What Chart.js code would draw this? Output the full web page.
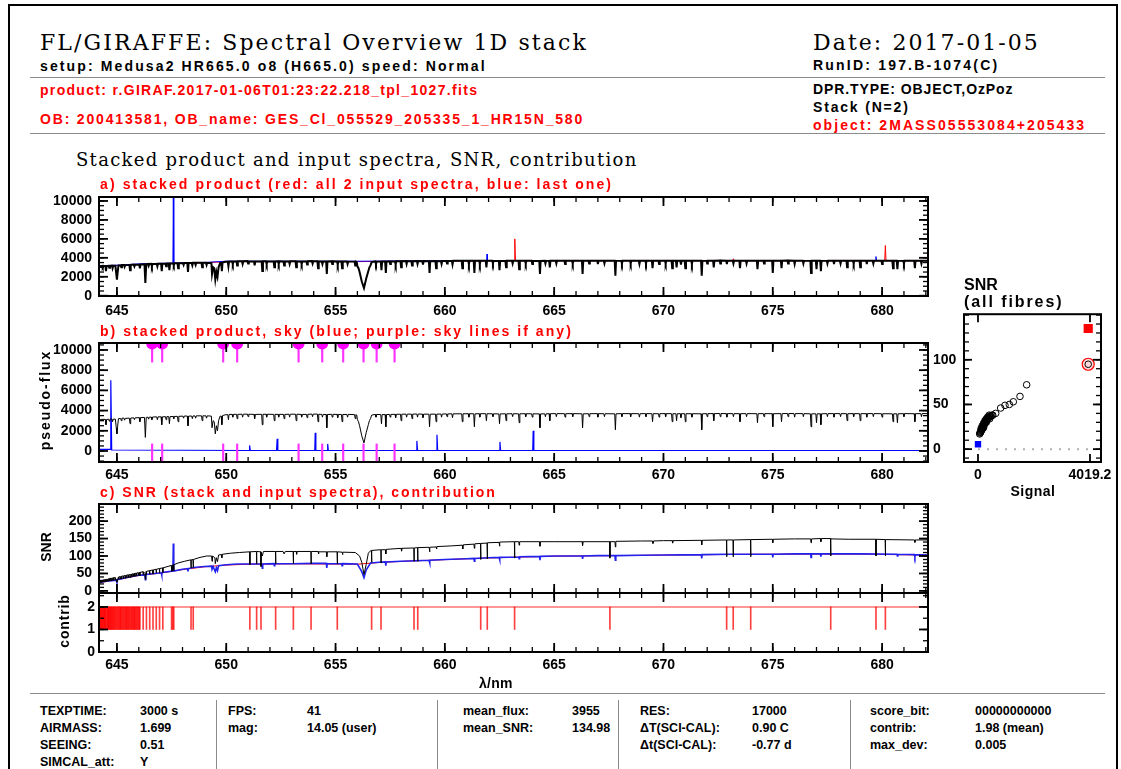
<!DOCTYPE html>
<html lang="en">
<head>
<meta charset="UTF-8">
<title>FL/GIRAFFE Spectral Overview 1D stack</title>
<script src="https://cdn.jsdelivr.net/npm/chart.js"></script>
<style>
    body {
        margin: 0;
        width: 1121px;
        height: 769px;
        overflow: hidden;
        background: #fff;
        position: relative;
        font-family: "Liberation Sans", Arial, sans-serif;
    }
    .frame {
        position: absolute;
        left: 8px; top: 4px;
        width: 1106px; height: 800px;
        border: 2px solid #000;
    }
    .hline { position: absolute; height: 0; border-top: 1.5px solid #8c8c8c; }
    .vline { position: absolute; width: 0; border-left: 1.5px solid #8c8c8c; }
    .txt { position: absolute; white-space: pre; line-height: 1; }
    .serif { font-family: "DejaVu Serif", serif; }
    .bold { font-family: "Liberation Sans", Arial, sans-serif; font-weight: bold; }
    canvas { position: absolute; }
</style>
</head>
<body>
<div class="frame"></div>
<div class="hline" style="left:30px;top:77px;width:1075px"></div>
<div class="hline" style="left:30px;top:133px;width:1075px"></div>
<div class="hline" style="left:30px;top:693px;width:1075px"></div>
<div class="vline" style="left:216px;top:700px;height:70px"></div>
<div class="vline" style="left:437px;top:700px;height:70px"></div>
<div class="vline" style="left:618px;top:700px;height:70px"></div>
<div class="vline" style="left:850px;top:700px;height:70px"></div>

<canvas id="panelA"></canvas>
<canvas id="panelB"></canvas>
<canvas id="panelC"></canvas>
<canvas id="panelD"></canvas>
<canvas id="panelE"></canvas>

<script>
// ---- data ----
const waveMin = 644.18, waveMax = 682.1;
const waveTicks = [645, 650, 655, 660, 665, 670, 675, 680];
const fluxTicks = [0, 2000, 4000, 6000, 8000, 10000];
const snrTicks = [0, 50, 100, 150, 200];
const contribTicks = [0, 1, 2];
const fibreYTicks = [0, 50, 100];
const fibreXTicks = [0, 4019.2];

// stacked product (wavelength nm, pseudo-flux)
const stackSpec = [
    [644.18,3050],[644.32,3150],[644.35,3000],[644.38,3150],[644.47,3120],[644.5,2600],[644.53,3120],
    [644.62,3150],[644.65,2950],[644.68,3150],[644.77,3180],[644.8,2900],[644.83,3150],[644.93,3150],
    [644.97,2300],[645.0,1700],[645.03,2400],[645.07,3200],
    [645.17,3220],[645.2,3000],[645.23,3250],[645.32,3250],[645.35,3050],[645.38,3230],[645.57,3250],
    [645.6,2700],[645.63,3260],[645.77,3280],[645.8,3100],[645.83,3280],[646.02,3300],[646.05,2900],
    [646.08,3300],[646.26,3320],[646.3,1350],[646.34,3320],
    [646.42,3350],[646.45,3150],[646.48,3350],[646.57,3360],[646.6,3100],[646.63,3360],[646.82,3380],
    [646.85,3100],[646.88,3380],[647.02,3380],[647.05,2600],[647.08,3380],[647.22,3400],[647.25,3100],
    [647.28,3400],[647.37,3400],[647.4,2700],[647.43,3400],[647.57,3420],[647.6,3200],[647.63,3420],
    [647.77,3430],[647.8,2900],[647.83,3430],
    [648.02,3450],[648.05,3250],[648.08,3460],[648.22,3460],[648.25,2500],[648.28,3450],[648.42,3460],
    [648.45,3200],[648.48,3470],[648.57,3470],[648.6,3250],[648.63,3480],[648.87,3480],[648.9,3000],
    [648.93,3480],[649.07,3480],[649.1,3250],[649.13,3480],
    [649.32,3450],[649.35,2300],[649.4,3000],[649.45,2900],[649.5,1700],[649.55,2500],[649.6,2000],
    [649.65,3000],[649.72,3450],[649.77,3450],[649.8,2600],[649.83,3500],
    [649.95,3580],[650.07,3600],[650.1,3100],[650.13,3620],[650.27,3620],[650.3,3350],[650.33,3620],
    [650.47,3630],[650.5,3200],[650.53,3630],[650.72,3640],[650.75,3350],[650.78,3640],[650.97,3650],
    [651.0,3400],[651.03,3640],[651.27,3620],[651.3,3200],[651.33,3620],[651.62,3630],[651.65,2600],
    [651.68,3630],[651.82,3640],[651.85,3350],[651.88,3640],[652.17,3620],[652.2,3000],[652.23,3620],
    [652.37,3630],[652.4,3350],[652.43,3630],[652.62,3620],[652.65,3200],[652.68,3620],[652.87,3640],
    [652.9,3350],[652.93,3640],[653.17,3640],[653.2,3000],[653.23,3640],[653.42,3620],[653.45,3350],
    [653.48,3620],[653.67,3620],[653.7,3300],[653.73,3630],[653.92,3650],[653.95,3400],[653.98,3650],
    [654.17,3650],[654.2,2900],[654.23,3640],[654.37,3620],[654.4,3350],[654.43,3620],[654.57,3610],
    [654.6,2300],[654.63,3610],[654.82,3630],[654.85,3350],[654.88,3630],[655.07,3620],[655.1,3300],
    [655.13,3620],[655.27,3610],[655.3,2900],[655.33,3610],[655.52,3620],[655.55,3350],[655.58,3620],
    [655.87,3600],[655.9,3200],[655.93,3600],
    [655.97,3550],[656.0,3100],[656.05,2900],[656.1,2500],[656.2,1500],[656.3,800],[656.4,1800],
    [656.5,2600],[656.55,3000],[656.6,3200],[656.65,3550],
    [656.82,3620],[656.85,3350],[656.88,3620],[657.07,3600],[657.1,2700],[657.13,3600],[657.27,3600],
    [657.3,2400],[657.33,3600],[657.47,3620],[657.5,3350],[657.53,3620],[657.72,3630],[657.75,3300],
    [657.78,3630],[657.97,3640],[658.0,3000],[658.03,3640],[658.22,3650],[658.25,3350],[658.28,3650],
    [658.47,3650],[658.5,3200],[658.53,3650],[658.72,3660],[658.75,3350],[658.78,3660],[658.97,3650],
    [659.0,3300],[659.03,3650],[659.27,3640],[659.3,2400],[659.33,3640],[659.57,3650],[659.6,2900],
    [659.63,3650],[659.82,3660],[659.85,3350],[659.88,3660],[660.07,3670],[660.1,3400],[660.13,3670],
    [660.32,3680],[660.35,3300],[660.38,3680],[660.77,3680],[660.8,2900],[660.83,3680],[661.07,3690],
    [661.1,3350],[661.13,3690],[661.32,3680],[661.35,2400],[661.38,3680],[661.57,3690],[661.6,3350],
    [661.63,3690],[661.87,3690],[661.9,3000],[661.93,3690],[662.17,3680],[662.2,3400],[662.23,3680],
    [662.47,3670],[662.5,2700],[662.53,3670],[662.77,3680],[662.8,3000],[662.83,3680],[663.07,3690],
    [663.1,3400],[663.13,3690],[663.37,3680],[663.4,2800],[663.43,3680],[663.67,3690],[663.7,3400],
    [663.73,3690],[663.97,3680],[664.0,3350],[664.03,3680],[664.32,3670],[664.35,2300],[664.38,3670],
    [664.57,3680],[664.6,3400],[664.63,3680],[664.77,3690],[664.8,3000],[664.83,3690],[665.07,3700],
    [665.1,3400],[665.13,3700],[665.47,3690],[665.5,3350],[665.53,3690],[665.82,3700],[665.85,3400],
    [665.88,3700],[666.27,3680],[666.3,2300],[666.33,3680],[666.57,3690],[666.6,3400],[666.63,3690],
    [666.97,3700],[667.0,3350],[667.03,3700],[667.27,3690],[667.3,3400],[667.33,3690],[667.77,3680],
    [667.8,2100],[667.83,3680],[668.07,3700],[668.1,3400],[668.13,3700],[668.47,3700],[668.5,3400],
    [668.53,3700],[668.87,3690],[668.9,3350],[668.93,3690],[669.17,3700],[669.2,3400],[669.23,3700],
    [669.47,3690],[669.5,2900],[669.53,3690],[669.77,3690],[669.8,3350],[669.83,3690],[670.07,3700],
    [670.1,3400],[670.13,3700],[670.37,3690],[670.4,2900],[670.43,3690],[670.57,3690],[670.6,3000],
    [670.63,3690],[670.77,3690],[670.8,3300],[670.83,3690],[670.97,3690],[671.0,2900],[671.03,3690],
    [671.27,3690],[671.3,3350],[671.33,3690],[671.72,3680],[671.75,2100],[671.78,3680],[671.97,3700],
    [672.0,3400],[672.03,3700],[672.27,3700],[672.3,3000],[672.33,3700],[672.57,3710],[672.6,3400],
    [672.63,3710],[672.87,3700],[672.9,3350],[672.93,3700],[673.17,3700],[673.2,3400],[673.23,3700],
    [673.47,3690],[673.5,2900],[673.53,3690],[673.77,3700],[673.8,3400],[673.83,3700],[674.27,3690],
    [674.3,2800],[674.33,3690],[674.57,3700],[674.6,3400],[674.63,3700],[674.97,3690],[675.0,2400],
    [675.03,3690],[675.37,3700],[675.4,2900],[675.43,3700],[675.67,3710],[675.7,3400],[675.73,3710],
    [675.97,3700],[676.0,3350],[676.03,3700],[676.37,3700],[676.4,3400],[676.43,3700],[676.72,3680],
    [676.75,2400],[676.78,3680],[676.97,3680],[677.0,2800],[677.03,3680],[677.17,3680],[677.2,2600],
    [677.23,3680],[677.47,3700],[677.5,3400],[677.53,3700],[677.77,3700],[677.8,3350],[677.83,3700],
    [678.07,3700],[678.1,3400],[678.13,3700],[678.37,3690],[678.4,3000],[678.43,3690],[678.67,3700],
    [678.7,3400],[678.73,3700],[678.97,3690],[679.0,3000],[679.03,3690],[679.27,3700],[679.3,3350],
    [679.33,3700],[679.57,3700],[679.6,3400],[679.63,3700],[679.97,3690],[680.0,3350],[680.03,3690],
    [680.47,3680],[680.5,2900],[680.53,3680],[680.67,3680],[680.7,2800],[680.73,3680],[680.97,3700],
    [681.0,3400],[681.03,3700],[681.47,3690],[681.5,2900],[681.53,3690],[681.77,3700],[681.8,3400],
    [681.83,3700],[682.1,3700]
];

// input spectra: red = all inputs, blue = last one
const inputRed = [
    [644.18,3050],[645,3180],[646,3310],[647,3380],[648,3450],[649,3480],[650,3600],[656,3600],[658,3640],
    [663.17,3680],[663.2,6000],[663.23,3680],[668,3690],[673.17,3690],[673.2,3900],[673.23,3690],
    [680.12,3690],[680.15,5300],[680.18,3690],[682.1,3690]
];
const inputBlue = [
    [644.18,3170],[645,3220],[646,3360],[647,3420],[647.56,3440],[647.58,10400],[647.6,3440],[648,3480],
    [649,3510],[650,3640],[656,3640],[658,3670],[661.91,3710],[661.93,4400],[661.95,3710],[665,3720],
    [670,3720],[675,3720],[679.7,3720],[679.72,4130],[679.74,3720],[682.1,3720]
];

// sky spectrum
const skySpec = [
    [644.18,150],[644.7,150],[644.72,7000],[644.76,100],[651.05,50],[651.07,550],[651.1,50],[652.3,50],
    [652.33,1200],[652.36,50],[654.05,50],[654.07,1800],[654.1,50],[654.62,50],[654.64,700],[654.67,50],
    [658.7,50],[658.72,1000],[658.75,50],[659.62,50],[659.64,1600],[659.67,50],[662.5,50],[662.52,900],
    [662.55,50],[664.02,50],[664.04,2000],[664.07,50],[682.1,50]
];
const skyLines = [646.61, 647.07, 649.86, 650.50, 653.31, 654.39, 655.35, 656.28, 656.88, 657.70];

// SNR of stack (black) and input spectra (blue = last, red = first)
const snrStack = [
    [644.18,28],[644.21,29],[644.22,24],[644.23,29],[644.26,30],[644.27,25],[644.28,30],[644.3,30],
    [644.31,25],[644.32,31],[644.35,31],[644.36,26],[644.37,31],[644.39,32],[644.4,26],[644.41,32],
    [644.44,32],[644.45,27],[644.46,33],[644.49,33],[644.5,26],[644.51,33],[644.54,34],[644.55,28],
    [644.56,34],[644.59,34],[644.6,28],[644.61,35],[644.65,35],[644.66,29],[644.67,36],[644.71,36],
    [644.72,29],[644.73,36],[644.77,37],[644.78,30],[644.79,37],[644.84,38],[644.85,30],[644.86,38],
    [644.91,38],[644.92,31],[644.93,38],[644.97,30],[645.0,25],[645.03,31],[645.07,40],[645.08,33],
    [645.09,40],[645.14,41],[645.15,34],[645.16,41],[645.21,42],[645.22,34],[645.23,42],[645.29,43],
    [645.3,35],[645.31,43],[645.37,44],[645.38,36],[645.39,44],[645.44,45],[645.45,37],[645.46,45],
    [645.51,46],[645.52,38],[645.53,46],[645.59,47],[645.6,38],[645.61,47],[645.67,48],[645.68,40],
    [645.69,48],[645.74,49],[645.75,41],[645.76,49],[645.81,50],[645.82,42],[645.83,50],[645.89,51],
    [645.9,43],[645.91,51],[645.97,52],[645.98,44],[645.99,52],[646.04,53],[646.05,44],[646.06,53],
    [646.19,55],[646.2,46],[646.21,55],[646.28,50],[646.3,33],[646.32,50],[646.34,56],[646.35,47],
    [646.36,56],[646.49,58],[646.5,48],[646.51,58],[646.64,60],[646.65,49],[646.66,60],[646.79,62],
    [646.8,51],[646.81,62],[646.94,64],[646.95,52],[646.96,64],[647.09,66],[647.1,53],[647.11,66],
    [647.49,73],[647.5,56],[647.51,73],[647.54,74],[647.55,57],[647.56,74],[647.59,75],[647.6,58],
    [647.61,75],[647.8,80],[648.1,85],[648.38,89],[648.39,66],[648.4,89],[648.48,90],[648.49,67],
    [648.5,90],[648.8,96],[649.1,100],[649.33,100],[649.35,85],[649.37,100],[649.48,95],[649.5,78],
    [649.55,95],[649.6,84],[649.65,103],[649.78,104],[649.8,95],[649.82,105],[650.2,108],[650.6,110],
    [651.07,112],[651.08,76],[651.09,112],[651.38,113],[651.39,78],[651.4,113],[651.58,112],[651.59,70],
    [651.6,110],[651.65,100],[651.7,113],[652.25,113],[652.26,78],[652.27,113],[652.6,113],[652.65,106],
    [652.7,113],[653.06,113],[653.07,78],[653.08,113],[653.2,113],[653.22,105],[653.24,113],[653.87,113],
    [653.88,78],[653.89,113],[654.2,113],[654.22,106],[654.24,112],[654.58,112],[654.6,98],[654.62,112],
    [655.07,112],[655.08,78],[655.09,112],[655.3,111],[655.32,104],[655.34,111],[655.9,110],[656.1,100],
    [656.2,82],[656.3,47],[656.4,75],[656.5,108],[656.6,115],[656.64,116],[656.65,82],[656.66,116],
    [657.07,118],[657.08,80],[657.09,118],[657.28,118],[657.3,106],[657.32,119],[658.0,122],[658.02,114],
    [658.04,122],[658.58,123],[658.59,85],[658.6,123],[658.75,124],[658.76,85],[658.77,124],[659.28,125],
    [659.3,112],[659.32,125],[659.6,126],[659.62,120],[659.64,127],[660.3,129],[660.8,131],[660.82,120],
    [660.84,132],[661.33,134],[661.35,122],[661.37,135],[661.63,136],[661.64,90],[661.65,136],[661.93,137],
    [661.94,92],[661.95,138],[662.48,139],[662.5,128],[662.52,140],[663.18,141],[663.19,94],[663.2,141],
    [663.38,141],[663.4,131],[663.42,141],[664.33,141],[664.35,128],[664.37,141],[665.0,141],[666.28,141],
    [666.3,130],[666.32,141],[667.54,141],[667.55,94],[667.56,141],[667.78,141],[667.8,126],[667.82,142],
    [669.0,143],[669.5,143],[669.52,136],[669.54,143],[670.0,144],[670.4,144],[670.42,137],[670.44,144],
    [671.73,145],[671.75,132],[671.77,145],[672.88,146],[672.89,98],[672.9,146],[673.18,146],[673.19,98],
    [673.2,146],[673.98,147],[673.99,98],[674.0,147],[674.98,148],[675.0,138],[675.02,148],[676.0,149],
    [676.73,149],[676.75,138],[676.77,149],[677.18,150],[677.2,141],[677.22,150],[677.64,150],[677.65,100],
    [677.66,149],[678.5,148],[679.71,148],[679.72,100],[679.73,148],[680.14,147],[680.15,100],[680.16,147],
    [681.48,146],[681.5,139],[681.52,146],[682.08,146],[682.1,100]
];
const snrBlue = [
    [644.18,24],[644.5,28],[644.98,31],[645.0,25],[645.02,32],[645.5,39],[646.0,45],[646.28,46],[646.3,32],
    [646.32,47],[647.03,52],[647.05,46],[647.07,53],[647.56,57],[647.58,136],[647.6,57],[648.0,62],
    [648.23,64],[648.25,56],[648.27,64],[648.5,67],[649.0,70],[649.33,71],[649.35,62],[649.4,70],[649.5,55],
    [649.55,66],[649.6,58],[649.65,72],[650.0,75],[650.5,77],[651.0,77],[651.63,77],[651.65,65],[651.67,77],
    [652.18,78],[652.2,72],[652.22,78],[653.0,78],[654.0,79],[654.58,79],[654.6,66],[654.62,78],[655.28,78],
    [655.3,72],[655.32,78],[656.0,77],[656.2,55],[656.3,38],[656.4,60],[656.6,80],[657.0,82],[657.28,83],
    [657.3,72],[657.32,83],[658.0,85],[659.0,87],[659.28,87],[659.3,80],[659.32,88],[660.0,90],[661.0,92],
    [661.33,93],[661.35,85],[661.37,93],[662.0,95],[662.48,96],[662.5,89],[662.52,96],[663.38,97],[663.4,92],
    [663.42,98],[664.33,99],[664.35,88],[664.37,99],[665.0,100],[666.28,100],[666.3,92],[666.32,100],
    [667.0,101],[667.78,101],[667.8,88],[667.82,101],[669.0,102],[670.0,103],[671.73,104],[671.75,93],
    [671.77,104],[673.0,105],[674.98,105],[675.0,96],[675.02,105],[676.0,106],[676.73,106],[676.75,96],
    [676.77,106],[677.18,106],[677.2,98],[677.22,106],[679.0,106],[680.68,105],[680.7,100],[680.72,105],
    [681.48,104],[681.5,98],[681.52,104],[682.1,103]
];
const snrRed = [
    [644.18,23],[645.5,38],[646,44],[647,51],[648,61],[649,69],[650,74],[651,76.5],[653,77.5],[656,76.5],
    [657,81.5],[658,84.5],[660,89.5],[662,94.5],[665,99.5],[670,102.5],[673,104.5],[676,105.5],[679,105.5],
    [682.1,102.5]
];

// contribution: 2 everywhere except where only one spectrum contributes
const contribLevel = [[644.18,2],[682.1,2]];
const contribDrops = [
    644.22,644.25,644.27,644.31,644.33,644.36,644.4,644.42,644.45,644.48,644.5,644.55,644.58,644.6,644.63,
    644.66,644.69,644.72,644.75,644.78,644.82,644.85,644.88,644.92,644.96,645.0,645.04,645.08,645.12,645.15,
    645.18,645.22,645.26,645.3,645.34,645.38,645.42,645.45,645.49,645.52,645.56,645.6,645.64,645.68,645.72,
    645.75,645.79,645.82,645.86,645.9,645.94,645.98,646.02,646.05,646.2,646.35,646.5,646.65,646.8,646.95,
    647.1,647.5,647.55,647.6,648.39,648.49,651.08,651.39,651.59,652.26,653.07,653.88,655.08,656.65,657.08,
    658.59,658.76,661.64,661.94,663.19,667.55,672.89,673.19,673.99,677.65,679.72,680.15,682.1
];

// SNR vs signal, all fibres
const fibreAll = [
    [60,17],[75,18],[85,19],[95,19],[105,20],[115,21],[125,21],[135,22],[145,22],[150,23],[160,24],[170,24],
    [180,25],[185,26],[195,26],[205,27],[215,27],[225,28],[235,28],[245,29],[255,30],[265,30],[280,31],
    [290,32],[305,32],[320,33],[335,34],[350,34],[365,35],[380,35],[400,36],[420,36],[440,37],[470,37],
    [500,38],[530,38],[110,23],[150,26],[200,29],[250,32],[300,34],[350,36],[400,38],[200,24],[300,30],
    [420,34],[635,40],[814,46],[969,49],[1124,50],[1268,53],[1507,59],[1746,72],[3955,95]
];
const fibreSky = [[0,5.5]];
const fibreStack = [[3955,135]];
const fibreTarget = [[3955,95]];
const fibreZero = [[0,0],[3955,0]];

// ---- texts ----
const RED = '#ff0000';
const texts = [
    {s:'FL/GIRAFFE: Spectral Overview 1D stack', x:40, y:43, size:22, f:'serif', w:548},
    {s:'Date: 2017-01-05', x:813, y:43, size:22, f:'serif', w:227},
    {s:'setup: Medusa2 HR665.0 o8 (H665.0) speed: Normal', x:40, y:66, size:14, f:'bold', w:447},
    {s:'RunID: 197.B-1074(C)', x:813, y:65, size:14, f:'bold', w:186},
    {s:'product: r.GIRAF.2017-01-06T01:23:22.218_tpl_1027.fits', x:40, y:90, size:14, f:'bold', w:438, c:RED},
    {s:'OB: 200413581, OB_name: GES_Cl_055529_205335_1_HR15N_580', x:40, y:119, size:14, f:'bold', w:544, c:RED},
    {s:'DPR.TYPE: OBJECT,OzPoz', x:813, y:89, size:14, f:'bold', w:200},
    {s:'Stack (N=2)', x:813, y:107, size:14, f:'bold', w:97},
    {s:'object: 2MASS05553084+205433', x:813, y:125, size:14, f:'bold', w:273, c:RED},
    {s:'Stacked product and input spectra, SNR, contribution', x:76, y:160, size:18, f:'serif', w:562},
    {s:'a) stacked product (red: all 2 input spectra, blue: last one)', x:100, y:184, size:14, f:'bold', w:513, c:RED},
    {s:'b) stacked product, sky (blue; purple: sky lines if any)', x:100, y:331, size:14, f:'bold', w:473, c:RED},
    {s:'c) SNR (stack and input spectra), contribution', x:100, y:492, size:14, f:'bold', w:397, c:RED},
    {s:'pseudo-flux', x:45, y:400, size:14, f:'bold', w:100, rot:true},
    {s:'SNR', x:46, y:547, size:14, f:'bold', w:30, rot:true},
    {s:'contrib', x:63, y:621, size:14, f:'bold', w:53, rot:true},
    {s:'λ/nm', x:496, y:683, size:14, f:'bold', w:34, mid:true},
    {s:'SNR', x:964, y:285, size:16, f:'bold', w:34},
    {s:'(all fibres)', x:964, y:302, size:16, f:'bold', w:99},
    {s:'Signal', x:1033, y:491, size:14, f:'bold', w:45, mid:true}
];
const footer = [
    ['TEXPTIME:', 40, 711], ['3000 s', 140, 711], ['AIRMASS:', 40, 728], ['1.699', 140, 728],
    ['SEEING:', 40, 745], ['0.51', 140, 745], ['SIMCAL_att:', 40, 762], ['Y', 140, 762],
    ['FPS:', 228, 711], ['41', 307, 711], ['mag:', 228, 728], ['14.05 (user)', 307, 728],
    ['mean_flux:', 463, 711], ['3955', 572, 711], ['mean_SNR:', 463, 728], ['134.98', 572, 728],
    ['RES:', 640, 711], ['17000', 752, 711], ['ΔT(SCI-CAL):', 640, 728], ['0.90 C', 752, 728],
    ['Δt(SCI-CAL):', 640, 745], ['-0.77 d', 752, 745],
    ['score_bit:', 870, 711], ['00000000000', 975, 711], ['contrib:', 870, 728], ['1.98 (mean)', 975, 728],
    ['max_dev:', 870, 745], ['0.005', 975, 745]
];

function putText(t) {
    const el = document.createElement('div');
    el.className = 'txt ' + t.f;
    el.textContent = t.s;
    el.style.fontSize = t.size + 'px';
    el.style.color = t.c || '#000';
    document.body.appendChild(el);
    if (t.w) {
        const nat = el.offsetWidth;
        el.style.letterSpacing = ((t.w - nat) / t.s.length) + 'px';
    }
    const w = el.offsetWidth, h = el.offsetHeight;
    el.style.left = ((t.rot || t.mid) ? t.x - w / 2 : t.x) + 'px';
    el.style.top = (t.y - h / 2) + 'px';
    if (t.rot) el.style.transform = 'rotate(-90deg)';
}
texts.forEach(putText);
footer.forEach(([s, x, y]) => putText({s, x, y, size: 12.5, f: 'bold'}));

// ---- charts ----
Chart.defaults.font.family = '"Liberation Sans", Arial, sans-serif';
Chart.defaults.font.size = 14;
Chart.defaults.font.weight = 'bold';
Chart.defaults.color = '#000';

// box frame with inward ticks on all four sides
const framePlugin = {
    id: 'frame',
    afterDatasetsDraw(chart, args, o) {
        const {ctx, chartArea: a, scales: {x, y}} = chart;
        const major = o.major || 9, minor = o.minor || 5;
        ctx.save();
        ctx.strokeStyle = '#000';
        const seg = (x1, y1, x2, y2) => { ctx.beginPath(); ctx.moveTo(x1, y1); ctx.lineTo(x2, y2); ctx.stroke(); };
        const xt = (v, len) => { const p = x.getPixelForValue(v); seg(p, a.bottom, p, a.bottom - len); seg(p, a.top, p, a.top + len); };
        const yt = (v, len) => { const p = y.getPixelForValue(v); seg(a.left, p, a.left + len, p); seg(a.right, p, a.right - len, p); };
        ctx.lineWidth = 1.3;
        const steps = (s, step, fn) => {
            const n0 = Math.ceil(s.min / step), n1 = Math.floor(s.max / step);
            for (let n = n0; n <= n1; n++) fn(n * step, minor);
        };
        if (o.xMinor) steps(x, o.xMinor, xt);
        if (o.yMinor) steps(y, o.yMinor, yt);
        ctx.lineWidth = 1.8;
        x.ticks.forEach(t => xt(t.value, major));
        y.ticks.forEach(t => yt(t.value, major));
        ctx.lineWidth = 2;
        ctx.strokeRect(a.left, a.top, a.right - a.left, a.bottom - a.top);
        ctx.restore();
    }
};
Chart.register(framePlugin);

const pts = arr => arr.map(([x, y]) => ({x, y}));
const fixedBox = (w, h) => s => {
    if (w !== undefined) s.width = w;
    if (h !== undefined) s.height = h;
    s.paddingTop = s.paddingBottom = s.paddingLeft = s.paddingRight = 0;
};

function xAxis(ticks, min, max, xH, pad, show) {
    return {
        type: 'linear', min, max, offset: false,
        grid: {display: false, drawTicks: false}, border: {display: false},
        ticks: {display: show, padding: pad, autoSkip: false, maxRotation: 0, callback: v => String(v)},
        afterBuildTicks: s => { s.ticks = ticks.map(v => ({value: v})); },
        afterFit: fixedBox(undefined, xH)
    };
}
function yAxis(ticks, min, max, yW, pad, cross) {
    return {
        type: 'linear', min, max,
        grid: {display: false, drawTicks: false}, border: {display: false},
        ticks: {padding: pad, crossAlign: cross || 'near', callback: v => String(v)},
        afterBuildTicks: s => { s.ticks = ticks.map(v => ({value: v})); },
        afterFit: fixedBox(yW, undefined)
    };
}
const line = (data, color, width, extra) => Object.assign({
    type: 'line', data: pts(data), borderColor: color, borderWidth: width,
    pointRadius: 0, tension: 0, fill: false
}, extra || {});

// plot box (x, y, w, h) -> canvas with fixed axis sizes.
// Chart.js paints the first dataset on top, so lists start with the topmost layer.
function panel(id, box, yW, xH, padR, datasets, scales, frame) {
    const cv = document.getElementById(id);
    const padT = 6;
    cv.width = yW + box[2] + padR;
    cv.height = padT + box[3] + xH;
    cv.style.left = (box[0] - yW) + 'px';
    cv.style.top = (box[1] - padT) + 'px';
    return new Chart(cv, {
        type: 'line',
        data: {datasets},
        options: {
            responsive: false, animation: false, events: [],
            layout: {padding: {top: padT, right: padR, left: 0, bottom: 0}},
            plugins: {legend: {display: false}, tooltip: {enabled: false}, frame},
            scales
        }
    });
}

// a) stacked product with input spectra
panel('panelA', [99, 197, 829, 99], 60, 26, 8, [
    line(stackSpec, '#000', 2),
    line(inputBlue, '#0000ff', 1),
    line(inputRed, RED, 1)
], {
    x: xAxis(waveTicks, waveMin, waveMax, 26, 7, true),
    y: yAxis(fluxTicks, -30, 10420, 60, 7)
}, {xMinor: 1, yMinor: 500});

// b) stacked product and sky
panel('panelB', [99, 343, 829, 119], 60, 26, 8, [
    {type: 'scatter', data: skyLines.map(x => ({x, y: 10650})), backgroundColor: '#ff00ff',
        borderWidth: 0, pointRadius: 6, clip: 0},
    {type: 'bar', data: skyLines.map(x => ({x, y: [8800, 10700]})), backgroundColor: '#ff33ff',
        barThickness: 1.5, grouped: false},
    {type: 'bar', data: skyLines.map(x => ({x, y: [-1100, 700]})), backgroundColor: '#ff33ff',
        barThickness: 1.5, grouped: false},
    line(stackSpec, '#000', 1),
    line(skySpec, '#0000ff', 1.2)
], {
    x: xAxis(waveTicks, waveMin, waveMax, 26, 4.5, true),
    y: yAxis(fluxTicks, -1090, 10690, 60, 7)
}, {xMinor: 1, yMinor: 500});

// c) SNR
panel('panelC', [99, 504, 829, 89], 60, 8, 8, [
    line(snrStack, '#000', 1),
    line(snrBlue, '#2222ee', 1.6),
    line(snrRed, RED, 1)
], {
    x: xAxis(waveTicks, waveMin, waveMax, 8, 5, false),
    y: yAxis(snrTicks, -6, 249, 60, 7)
}, {xMinor: 1, yMinor: 10});

// contribution
panel('panelD', [99, 593, 829, 59], 60, 26, 8, [
    {type: 'bar', data: contribDrops.map(x => ({x, y: [1, 2]})), backgroundColor: 'rgba(255,0,0,0.75)',
        barThickness: 1, grouped: false},
    line(contribLevel, 'rgba(255,0,0,0.55)', 1.5)
], {
    x: xAxis(waveTicks, waveMin, waveMax, 26, 5, true),
    y: yAxis(contribTicks, 0, 2.62, 60, 4)
}, {xMinor: 1, yMinor: 0.5});

// SNR vs signal for all fibres
panel('panelE', [964, 313, 137, 149], 31, 24, 14, [
    {type: 'scatter', data: pts(fibreStack), pointStyle: 'rect', pointRadius: 6.5, borderWidth: 0,
        backgroundColor: RED},
    {type: 'scatter', data: pts(fibreSky), pointStyle: 'rect', pointRadius: 4.5, borderWidth: 0,
        backgroundColor: '#0000ff'},
    {type: 'scatter', data: pts(fibreAll), pointRadius: 3.3, borderColor: '#000', borderWidth: 1,
        backgroundColor: 'rgba(0,0,0,0)'},
    {type: 'scatter', data: pts(fibreTarget), pointRadius: 6, borderColor: RED, borderWidth: 1.2,
        backgroundColor: 'rgba(255,0,0,0.15)'},
    line(fibreZero, '#b0b0b0', 2, {borderDash: [2, 7]})
], {
    x: xAxis(fibreXTicks, -502, 4414, 24, 5, true),
    y: yAxis(fibreYTicks, -14.4, 151, 31, 0, 'far')
}, {yMinor: 10, major: 8, minor: 5});
</script>
</body>
</html>
